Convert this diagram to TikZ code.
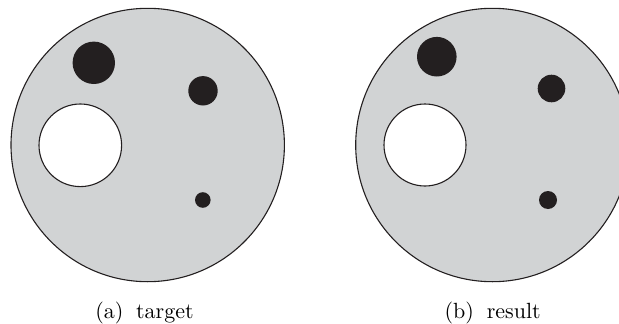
\documentclass[tikz,border=0pt]{standalone}
\usepackage{graphicx}
\definecolor{discgray}{RGB}{209,211,212}
\definecolor{dotblack}{RGB}{35,31,32}
\tikzset{
  disc/.style={circle, draw=dotblack, fill=discgray, line width=1.1pt, inner sep=0pt, minimum size=#1},
  hole/.style={circle, draw=dotblack, fill=white, line width=1.1pt, inner sep=0pt, minimum size=#1},
  blob/.style={circle, fill=dotblack, inner sep=0pt, minimum size=#1},
  capt/.style={inner sep=0pt, anchor=base}
}
\newcommand{\captext}[1]{\scalebox{2.2}{\fontsize{10}{12}\selectfont #1}}
\begin{document}
\begin{tikzpicture}[x=1pt,y=-1pt]
\useasboundingbox (0,0) rectangle (619,324);
\begin{scope}
\clip (0,0) rectangle (619,324);
% left panel
\node[disc=273.4pt] (outerA) at (147.7,145) {};
\node[blob=42.4pt] (bigA) at (93.8,62.8) {};
\node[blob=29.4pt] (midA) at (203,90.8) {};
\node[blob=15.6pt] (smallA) at (202.8,200) {};
\node[hole=82.6pt] (holeA) at (80.3,145.3) {};
% right panel
\node[disc=273.4pt] (outerB) at (492.4,145) {};
\node[blob=39.6pt] (bigB) at (436.8,56.7) {};
\node[blob=27.6pt] (midB) at (551.5,88.5) {};
\node[blob=18pt] (smallB) at (548,200) {};
\node[hole=82pt] (holeB) at (425,145) {};
\end{scope}
\node[capt] (captA) at (144.5,318.8) {\captext{(a)\hspace{5.8pt}target}};
\node[capt] (captB) at (492.7,318.8) {\captext{(b)\hspace{5.8pt}result}};
\end{tikzpicture}
\end{document}
